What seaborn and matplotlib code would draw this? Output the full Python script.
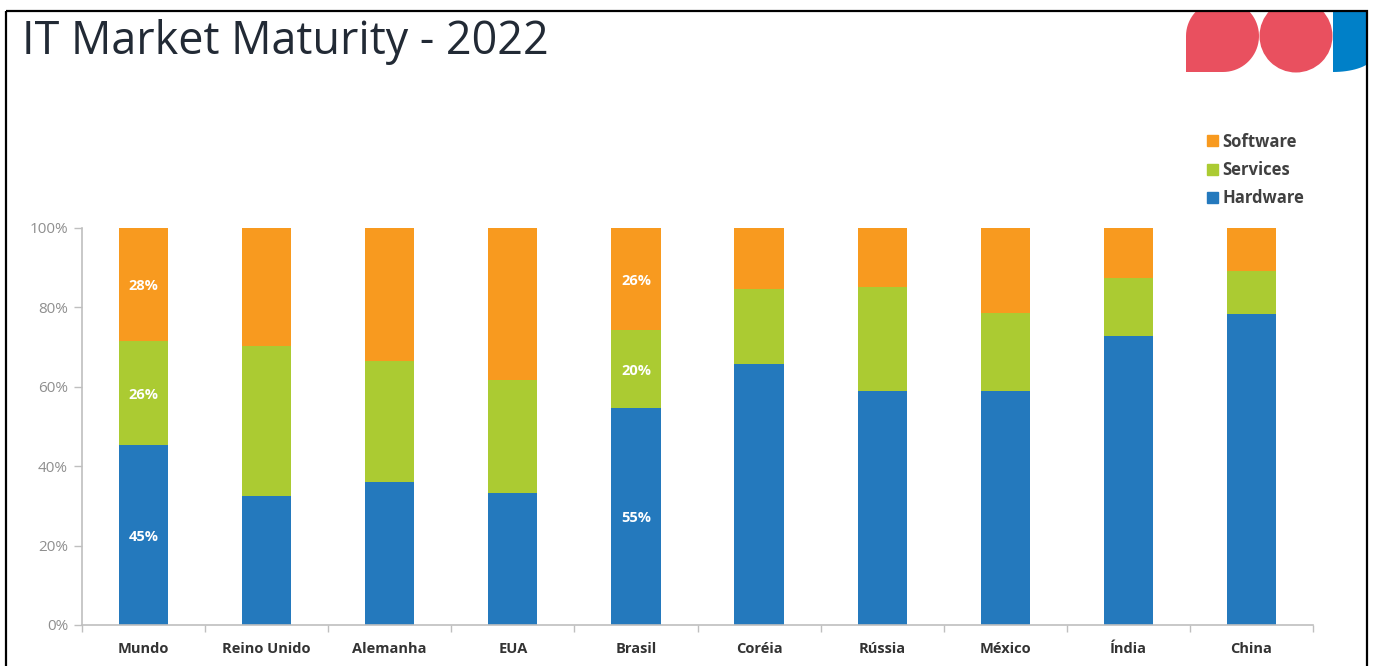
import matplotlib
matplotlib.use("Agg")
import matplotlib.pyplot as plt
import matplotlib.patches as mpatches
import seaborn as sns
import pandas as pd
import numpy as np

# ---- data ----
countries = ["Mundo", "Reino Unido", "Alemanha", "EUA", "Brasil",
             "Coréia", "Rússia", "México", "Índia", "China"]
hardware = [45.3, 32.5, 36.0, 33.2, 54.6, 65.7, 58.9, 58.9, 72.8, 78.3]
services = [26.2, 37.8, 30.5, 28.5, 19.6, 18.9, 26.2, 19.7, 14.6, 10.9]
software = [28.5, 29.7, 33.5, 38.3, 25.8, 15.4, 14.9, 21.4, 12.6, 10.8]
labelled = ["Mundo", "Brasil"]
series_names = ["Hardware", "Services", "Software"]
yticks = [0, 20, 40, 60, 80, 100]
title = "IT Market Maturity - 2022"

colors = {"Hardware": "#2479BD", "Services": "#ABCB32", "Software": "#F89A1F"}

sns.set_theme(style="white")
plt.rcParams["font.family"] = ["Open Sans", "DejaVu Sans"]

W, H = 1376, 666
fig = plt.figure(figsize=(W / 100, H / 100), dpi=100)

ax = fig.add_axes([82 / W, 1 - 625 / H, (1313 - 82) / W, (625 - 228) / H])

df = pd.DataFrame({"country": countries, "Hardware": hardware,
                   "Services": services, "Software": software})
df["c_hw"] = df["Hardware"]
df["c_sv"] = df["Hardware"] + df["Services"]
df["c_sw"] = df["c_sv"] + df["Software"]

for col, name in [("c_sw", "Software"), ("c_sv", "Services"), ("c_hw", "Hardware")]:
    sns.barplot(data=df, x="country", y=col, color=colors[name], width=0.4,
                saturation=1, ax=ax, order=countries, linewidth=0)

ax.set_xlim(-0.5, len(countries) - 0.5)
ax.set_ylim(0, 100)
ax.set_xlabel("")
ax.set_ylabel("")
ax.set_yticks(yticks)
ax.set_yticklabels([f"{v}%" for v in yticks], color="#8f8f8f", fontsize=11)
ax.tick_params(axis="y", length=6, width=1, color="#bfbfbf", direction="out", pad=4, left=True)
ax.tick_params(axis="x", which="major", length=0, pad=12)
for lbl in ax.get_xticklabels():
    lbl.set_fontweight("bold")
    lbl.set_color("#333333")
    lbl.set_fontsize(10.5)
ax.set_xticks(np.arange(-0.5, len(countries), 1), minor=True)
ax.tick_params(axis="x", which="minor", length=5, width=1, color="#bfbfbf", direction="out", bottom=True)
for s in ["top", "right"]:
    ax.spines[s].set_visible(False)
for s in ["left", "bottom"]:
    ax.spines[s].set_color("#bfbfbf")
    ax.spines[s].set_linewidth(1.2)
ax.grid(False)

# value labels
for i, c in enumerate(countries):
    if c in labelled:
        h, sv, sw = hardware[i], services[i], software[i]
        for base, val in [(0, h), (h, sv), (h + sv, sw)]:
            ax.text(i, base + val / 2 - 0.4, f"{round(val)}%", ha="center", va="center",
                    color="white", fontweight="bold", fontsize=10.5)

# legend
handles = [mpatches.Patch(color=colors[n], label=n) for n in ["Software", "Services", "Hardware"]]
leg = fig.legend(handles=handles, loc="upper left", bbox_to_anchor=(1200 / W, 1 - 126 / H),
                 frameon=False, prop={"weight": "bold", "size": 12},
                 handlelength=0.65, handleheight=0.65, handletextpad=0.3,
                 labelspacing=0.62, borderaxespad=0)
for t in leg.get_texts():
    t.set_color("#404040")

# title
fig.text(22 / W, 1 - 42 / H, title, fontsize=32.3, color="#222a35", ha="left", va="center")

# overlay for frame and logo (pixel coordinates)
ov = fig.add_axes([0, 0, 1, 1], zorder=-1)
ov.set_xlim(0, W)
ov.set_ylim(H, 0)
ov.axis("off")
ov.patch.set_alpha(0)
clip = mpatches.Rectangle((6, 11), 1361, 700, transform=ov.transData, facecolor="none", edgecolor="none")
ov.add_patch(clip)
red = "#E9505F"
r = 36
cx, cy = 1223, 36
tl = [(1223 + 37 * np.cos(t), 36 - 36 * np.sin(t)) for t in np.linspace(np.pi / 2, np.pi, 20)]
dpts = [(cx + r * np.cos(t), cy + r * np.sin(-t)) for t in np.linspace(-np.pi / 2, np.pi / 2, 40)]
dpts = dpts + tl + [(1186, 72)]
poly = mpatches.Polygon(dpts, closed=True, facecolor=red, edgecolor="none")
ov.add_patch(poly)
poly.set_clip_path(clip)
circ = mpatches.Circle((1296, 36), 36.5, facecolor=red, edgecolor="none")
ov.add_patch(circ)
circ.set_clip_path(clip)
bt = np.linspace(0, np.pi / 2, 20)
bpts = [(1333, 0), (1333, 72)] + [(1333 + 40 * np.sin(t), 72 - 16 * (1 - np.cos(t))) for t in bt[1:]] + [(1373, 0)]
blue = mpatches.Polygon(bpts, closed=True, facecolor="#0080C8", edgecolor="none")
ov.add_patch(blue)
blue.set_clip_path(clip)
frame = mpatches.Rectangle((6, 11), 1361, 700, transform=ov.transData, facecolor="none",
                           edgecolor="black", linewidth=1.6, zorder=5)
ov.add_patch(frame)

fig.savefig("out.png", dpi=100)
